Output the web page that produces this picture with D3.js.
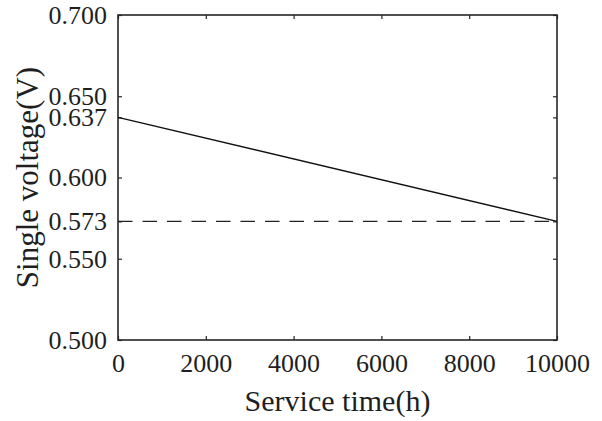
<!DOCTYPE html>
<html>
<head>
<meta charset="utf-8">
<script src="https://cdn.jsdelivr.net/npm/d3@7"></script>
<style>
  body { margin: 0; background: #fff; }
  text { font-family: "Liberation Serif", "Times New Roman", serif; fill: #1f1f1f; }
</style>
</head>
<body>
<div id="plot"></div>
<script>
  const w = 602;
  const h = 421;
  const margin = {top: 15, right: 45, bottom: 81, left: 118};
  const innerWidth = w - margin.left - margin.right;
  const innerHeight = h - margin.top - margin.bottom;

  // data
  const timeHours = [0, 10000];
  const voltage = [0.637, 0.573];
  const limitVoltage = 0.573;
  const xTicks = [0, 2000, 4000, 6000, 8000, 10000];
  const yTicks = [0.500, 0.550, 0.573, 0.600, 0.637, 0.650, 0.700];

  const svg = d3.select("div#plot")
      .append("svg")
      .attr("width", w)
      .attr("height", h);

  const xScale = d3.scaleLinear()
      .domain([0, 10000])
      .range([0, innerWidth]);

  const yScale = d3.scaleLinear()
      .domain([0.5, 0.7])
      .range([innerHeight, 0]);

  const g = svg.append("g")
      .attr("transform", `translate(${margin.left}, ${margin.top})`);

  const fontSize = 26;
  const axisColor = "#262626";

  function styleAxis(sel) {
    sel.select(".domain").remove();
    sel.selectAll("line").attr("stroke", axisColor).attr("stroke-width", 1.2);
    sel.selectAll("text")
        .style("font-size", fontSize + "px")
        .attr("fill", "#1f1f1f");
  }

  // mirror ticks on top and right, no labels
  function mirrorAxis(sel) {
    sel.select(".domain").remove();
    sel.selectAll("text").remove();
    sel.selectAll("line").attr("stroke", axisColor).attr("stroke-width", 1.2);
  }

  g.append("g")
      .attr("transform", `translate(0, ${innerHeight})`)
      .call(d3.axisBottom(xScale).tickValues(xTicks).tickFormat(d3.format("d"))
        .tickSizeInner(-4).tickSizeOuter(0).tickPadding(14))
      .call(styleAxis);

  g.append("g")
      .call(d3.axisTop(xScale).tickValues(xTicks)
        .tickSizeInner(-4).tickSizeOuter(0))
      .call(mirrorAxis);

  g.append("g")
      .call(d3.axisLeft(yScale).tickValues(yTicks).tickFormat(d3.format(".3f"))
        .tickSizeInner(-4).tickSizeOuter(0).tickPadding(11))
      .call(styleAxis);

  g.append("g")
      .attr("transform", `translate(${innerWidth}, 0)`)
      .call(d3.axisRight(yScale).tickValues(yTicks)
        .tickSizeInner(-4).tickSizeOuter(0))
      .call(mirrorAxis);

  // box
  g.append("rect")
      .attr("x", 0)
      .attr("y", 0)
      .attr("width", innerWidth)
      .attr("height", innerHeight)
      .attr("fill", "none")
      .attr("stroke", axisColor)
      .attr("stroke-width", 1.6);

  // limit line
  g.append("line")
      .attr("x1", xScale(timeHours[0]))
      .attr("x2", xScale(timeHours[1]))
      .attr("y1", yScale(limitVoltage))
      .attr("y2", yScale(limitVoltage))
      .attr("stroke", "#222")
      .attr("stroke-width", 1.3)
      .attr("stroke-dasharray", "14.5,10");

  const line = d3.line()
      .x((d, i) => xScale(timeHours[i]))
      .y(d => yScale(d));

  g.append("path")
      .datum(voltage)
      .attr("d", line)
      .attr("fill", "none")
      .attr("stroke", "#111")
      .attr("stroke-width", 1.5);

  svg.append("text")
      .attr("x", margin.left + innerWidth / 2)
      .attr("y", 411)
      .attr("text-anchor", "middle")
      .style("font-size", "30px")
      .text("Service time(h)");

  svg.append("text")
      .attr("transform", `translate(38, ${margin.top + innerHeight / 2}) rotate(-90)`)
      .attr("text-anchor", "middle")
      .style("font-size", "31px")
      .text("Single voltage(V)");
</script>
</body>
</html>
